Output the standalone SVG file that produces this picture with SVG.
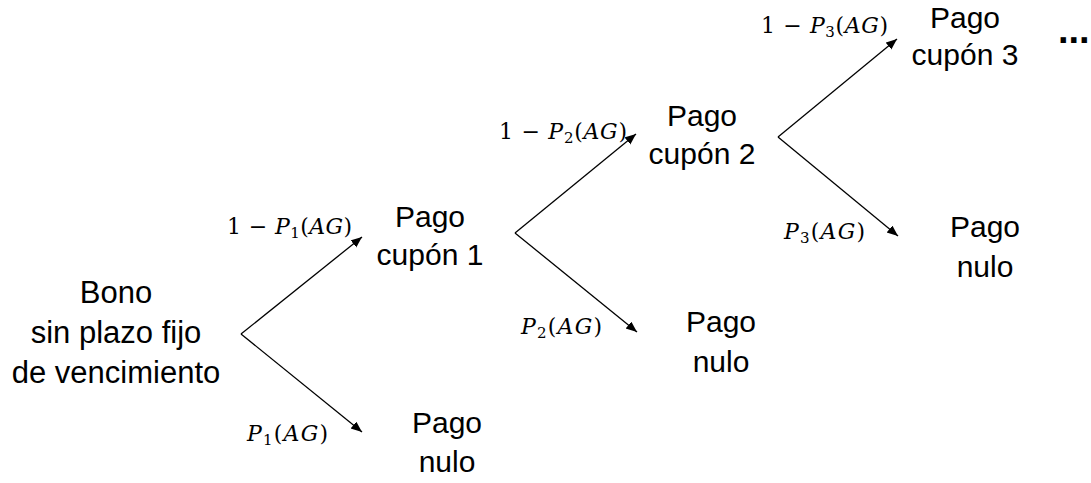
<svg xmlns="http://www.w3.org/2000/svg" width="1091" height="483" viewBox="0 0 1091 483">
<style>
.n{font-family:"Liberation Sans",Arial,sans-serif;font-size:30px;fill:#000;text-anchor:middle}
.b{font-size:31px}
.m{font-family:"DejaVu Serif","Liberation Serif",serif;font-size:22px;fill:#000}
.i{font-style:italic}
.s{font-size:15px}
.c{fill:none;stroke:#000;stroke-width:1.3}
</style>
<defs>
<marker id="ah" markerUnits="userSpaceOnUse" markerWidth="12" markerHeight="10" refX="11" refY="4.5" orient="auto">
<path d="M0,0 L11,4.5 L0,9 z" fill="#000"/>
</marker>
</defs>
<rect width="1091" height="483" fill="#fff"/>
<g id="connectors">
<path class="c" d="M241,334 L362,237" marker-end="url(#ah)"/>
<path class="c" d="M241,334 L362,432" marker-end="url(#ah)"/>
<path class="c" d="M515,233 L636,134" marker-end="url(#ah)"/>
<path class="c" d="M515,233 L637,332" marker-end="url(#ah)"/>
<path class="c" d="M778,137 L897,39" marker-end="url(#ah)"/>
<path class="c" d="M778,137 L898,236" marker-end="url(#ah)"/>
</g>
<g id="edge-labels">
<text class="m" x="227" y="234" textLength="125" lengthAdjust="spacing">1 − <tspan class="i">P</tspan><tspan class="s" dy="4">1</tspan><tspan dy="-4">(</tspan><tspan class="i">AG</tspan>)</text>
<text class="m" x="247" y="441" textLength="81" lengthAdjust="spacing"><tspan class="i">P</tspan><tspan class="s" dy="4">1</tspan><tspan dy="-4">(</tspan><tspan class="i">AG</tspan>)</text>
<text class="m" x="499" y="139" textLength="128" lengthAdjust="spacing">1 − <tspan class="i">P</tspan><tspan class="s" dy="4">2</tspan><tspan dy="-4">(</tspan><tspan class="i">AG</tspan>)</text>
<text class="m" x="521" y="334" textLength="81" lengthAdjust="spacing"><tspan class="i">P</tspan><tspan class="s" dy="4">2</tspan><tspan dy="-4">(</tspan><tspan class="i">AG</tspan>)</text>
<text class="m" x="761" y="33" textLength="127" lengthAdjust="spacing">1 − <tspan class="i">P</tspan><tspan class="s" dy="4">3</tspan><tspan dy="-4">(</tspan><tspan class="i">AG</tspan>)</text>
<text class="m" x="784" y="239" textLength="81" lengthAdjust="spacing"><tspan class="i">P</tspan><tspan class="s" dy="4">3</tspan><tspan dy="-4">(</tspan><tspan class="i">AG</tspan>)</text>
</g>
<g id="bono">
<text class="n b" x="116" y="303">Bono</text>
<text class="n b" x="116" y="343">sin plazo fijo</text>
<text class="n b" x="116" y="383">de vencimiento</text>
</g>
<g id="cupon1">
<text class="n" x="430" y="227">Pago</text>
<text class="n" x="430" y="265">cupón 1</text>
</g>
<g id="nulo1">
<text class="n" x="447" y="433">Pago</text>
<text class="n" x="447" y="472">nulo</text>
</g>
<g id="cupon2">
<text class="n" x="702" y="126">Pago</text>
<text class="n" x="702" y="164">cupón 2</text>
</g>
<g id="nulo2">
<text class="n" x="721" y="332">Pago</text>
<text class="n" x="721" y="372">nulo</text>
</g>
<g id="cupon3">
<text class="n" x="965" y="28">Pago</text>
<text class="n" x="965" y="65">cupón 3</text>
</g>
<g id="nulo3">
<text class="n" x="985" y="237">Pago</text>
<text class="n" x="985" y="277">nulo</text>
</g>
<g id="ellipsis">
<text x="1058" y="43" style="font-family:'Liberation Sans',Arial,sans-serif;font-size:38px;font-weight:bold">...</text>
</g>
</svg>
